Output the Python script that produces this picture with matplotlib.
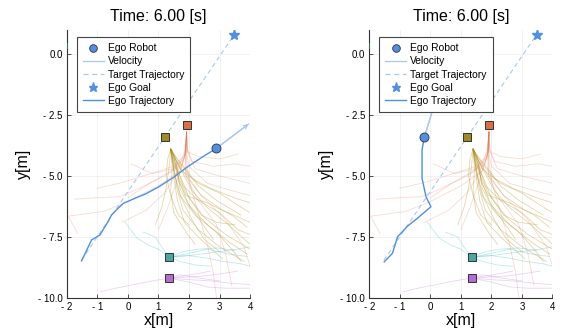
import numpy as np
import matplotlib
matplotlib.use("Agg")
import matplotlib.pyplot as plt
from matplotlib.lines import Line2D

plt.rcParams['font.family'] = ['Liberation Sans', 'DejaVu Sans']

# --- scene data ---
title = "Time: 6.00 [s]"
x_ticks = [-2, -1, 0, 1, 2, 3, 4]
x_tick_labels = ["- 2", "- 1", "0", "1", "2", "3", "4"]
y_ticks = [0.0, -2.5, -5.0, -7.5, -10.0]
y_tick_labels = ["0.0", "- 2.5", "- 5.0", "- 7.5", "- 10.0"]

goal = (3.48, 0.80)
target_start = (-1.52, -8.45)
other_goal = (-2.06, 0.33)

# agents: olive, orange, teal, purple
agent_x = [1.21, 1.92, 1.35, 1.35]
agent_y = [-3.41, -2.91, -8.33, -9.19]

# sampled predictions per agent, lists of (x, y)
olive_samples = [
    [(1.40, -3.9), (1.55, -4.5), (1.70, -5.3), (2.00, -6.2), (2.60, -7.0), (3.30, -7.7), (3.90, -8.2)],
    [(1.40, -3.9), (1.50, -4.6), (1.60, -5.5), (1.80, -6.4), (2.30, -7.2), (3.00, -7.9), (3.80, -8.5)],
    [(1.40, -3.9), (1.60, -4.4), (1.90, -5.0), (2.40, -5.8), (3.10, -6.4), (4.00, -6.9)],
    [(1.40, -3.9), (1.45, -4.7), (1.40, -5.6), (1.50, -6.5), (1.90, -7.3), (2.20, -7.8)],
    [(1.40, -3.9), (1.60, -4.6), (1.80, -5.4), (2.30, -6.0), (3.00, -6.5), (3.60, -7.2), (4.00, -7.4)],
    [(1.40, -3.9), (1.35, -4.6), (1.25, -5.5), (1.10, -6.3), (0.90, -7.0)],
    [(1.40, -3.9), (1.70, -4.5), (2.10, -5.1), (2.70, -5.5), (3.50, -5.9), (4.00, -6.1)],
    [(1.40, -3.9), (1.50, -4.8), (1.70, -5.8), (2.20, -6.6), (2.90, -7.3), (3.40, -8.0), (3.70, -8.5)],
    [(1.40, -3.9), (1.55, -4.3), (1.80, -4.9), (2.10, -5.6), (2.60, -6.3), (3.20, -6.9), (4.00, -7.8)],
    [(1.40, -3.9), (1.45, -4.4), (1.55, -5.0), (1.75, -5.9), (2.10, -6.8), (2.50, -7.6), (3.00, -8.1)],
    [(1.40, -3.9), (1.30, -4.3), (1.25, -5.0), (1.40, -5.8), (1.65, -6.6), (2.00, -7.0)],
    [(1.40, -3.9), (1.70, -4.7), (2.30, -5.3), (3.00, -5.7), (3.60, -6.2), (4.00, -6.5)],
    [(1.40, -3.9), (1.50, -4.5), (1.75, -5.1), (2.00, -5.9), (2.40, -6.6), (2.90, -6.9), (3.50, -7.0)],
    [(1.40, -3.9), (1.60, -4.9), (1.90, -5.7), (2.50, -6.7), (3.20, -7.4), (4.00, -8.0)],
    [(1.42, -3.9), (1.50, -4.2), (1.62, -4.8), (1.70, -5.5), (1.95, -6.1), (2.40, -6.9), (2.80, -7.6)],
    [(1.42, -3.9), (1.58, -4.4), (1.65, -5.2), (1.90, -5.8), (2.60, -6.1), (3.40, -6.6), (3.90, -7.1)],
    [(1.40, -3.9), (1.48, -4.5), (1.52, -5.2), (1.62, -6.0), (1.85, -6.9), (2.30, -7.5), (3.10, -8.4)],
    [(1.40, -3.9), (1.62, -4.3), (1.95, -4.8), (2.30, -5.4), (2.90, -6.0), (3.70, -6.6)],
]
orange_samples = [
    [(1.92, -3.2), (1.90, -3.8), (1.85, -4.3), (1.50, -4.7), (0.80, -4.9), (0.10, -4.5)],
    [(1.92, -3.2), (1.88, -3.9), (1.80, -4.5), (1.20, -5.0), (0.20, -5.6), (-0.30, -5.85), (-1.15, -5.9), (-1.75, -5.95)],
    [(1.92, -3.2), (1.90, -4.0), (1.70, -4.8), (1.00, -5.4), (0.00, -6.05), (-0.80, -6.45), (-1.95, -6.65), (-1.65, -7.35)],
    [(1.92, -3.2), (1.95, -3.9), (2.10, -4.4), (2.80, -4.6), (3.50, -4.5), (4.00, -4.6)],
    [(1.92, -3.2), (1.95, -4.0), (2.20, -4.7), (3.00, -5.0), (4.00, -5.3)],
    [(1.92, -3.2), (1.90, -4.1), (2.00, -5.2), (2.30, -6.5), (2.60, -7.8), (2.80, -9.0), (2.90, -10.0)],
    [(1.92, -3.2), (1.88, -4.0), (1.90, -5.0), (2.30, -6.0), (2.90, -7.0), (3.20, -8.2), (3.40, -9.5)],
    [(1.92, -3.2), (1.85, -4.0), (1.60, -4.9), (1.20, -5.7), (0.60, -6.4), (-0.20, -6.9)],
    [(1.92, -3.2), (1.90, -3.9), (2.00, -4.6), (2.60, -5.3), (3.40, -5.6), (4.00, -5.8)],
    [(1.92, -3.2), (1.90, -4.0), (1.90, -4.9), (2.40, -5.8), (3.20, -6.8), (3.80, -7.9), (4.00, -8.7)],
    [(1.92, -3.2), (1.88, -4.1), (1.50, -4.6), (0.50, -5.0), (-0.30, -5.3), (-1.00, -5.5)],
    [(1.92, -3.2), (1.90, -4.0), (1.60, -5.2), (1.30, -6.3), (1.00, -7.2)],
    [(1.92, -3.2), (1.95, -4.0), (2.30, -4.2), (3.00, -4.3), (3.60, -4.1)],
    [(1.92, -3.2), (1.86, -4.2), (1.40, -4.8), (0.70, -5.3), (0.00, -5.9)],
]
teal_samples = [
    [(1.35, -8.33), (1.80, -8.30), (2.40, -8.20), (3.00, -8.10), (3.60, -8.00), (4.00, -7.90)],
    [(1.35, -8.33), (1.90, -8.25), (2.50, -8.35), (3.10, -8.50), (3.70, -8.60), (4.00, -8.70)],
    [(1.35, -8.33), (1.80, -8.10), (2.30, -8.00), (2.90, -7.95), (3.50, -8.05)],
    [(1.35, -8.33), (1.70, -8.50), (2.20, -8.65), (2.70, -8.70)],
    [(1.35, -8.33), (1.00, -8.00), (0.70, -7.85), (0.30, -7.55), (-0.10, -6.90)],
    [(1.35, -8.33), (1.90, -8.20), (2.60, -8.00), (3.30, -8.20), (3.90, -8.30)],
    [(1.35, -8.33), (1.10, -7.90), (0.90, -7.50), (0.50, -7.30)],
]
purple_samples = [
    [(1.35, -9.19), (1.90, -9.15), (2.50, -9.10), (3.10, -9.00), (3.60, -8.90)],
    [(1.35, -9.19), (2.00, -9.25), (2.70, -9.30), (3.40, -9.40), (4.00, -9.45)],
    [(1.35, -9.19), (1.80, -9.10), (2.30, -9.00), (2.70, -8.90)],
    [(1.35, -9.19), (0.80, -9.30), (0.20, -9.45), (-0.40, -9.60), (-0.90, -9.75)],
    [(1.35, -9.19), (2.00, -9.35), (2.60, -9.55), (3.20, -9.60), (4.00, -9.60)],
    [(1.35, -9.19), (1.70, -9.05), (2.40, -9.20), (3.00, -9.30)],
]

# ego trajectories for the two panels
ego_left_x = [-1.52, -1.19, -0.92, -0.65, -0.54, -0.32, -0.15, 0.20, 0.60, 1.00, 1.50, 1.92, 2.40, 2.89]
ego_left_y = [-8.48, -7.62, -7.42, -6.87, -6.60, -6.32, -6.12, -5.93, -5.72, -5.45, -5.05, -4.65, -4.25, -3.87]
vel_left = (3.95, -2.87)

ego_right_x = [-1.51, -1.24, -1.07, -0.74, -0.42, 0.02, -0.14, -0.27, -0.27, -0.20]
ego_right_y = [-8.52, -8.17, -7.49, -7.05, -6.73, -6.26, -5.85, -5.10, -3.93, -3.42]
vel_right = (0.25, -1.60)

panels = [(ego_left_x, ego_left_y, vel_left), (ego_right_x, ego_right_y, vel_right)]

ego_c = '#4f8fe6'
light_c = '#a8c8f2'
agent_colors = ['#a08a24', '#dc6e45', '#4aa5a8', '#b46cd0']
sample_colors = ['#ac8e18', '#e36f47', '#00aaae', '#c371d2']
sample_alpha = [0.35, 0.25, 0.25, 0.3]
all_samples = [olive_samples, orange_samples, teal_samples, purple_samples]

fig = plt.figure(figsize=(5.62, 3.34), dpi=100)
axes = [fig.add_axes([0.119, 0.108, 0.326, 0.803]),
        fig.add_axes([0.657, 0.108, 0.326, 0.803])]

for ax, (ex, ey, vel) in zip(axes, panels):
    for samples, col, al in zip(all_samples, sample_colors, sample_alpha):
        for s in samples:
            s = np.array(s)
            ax.plot(s[:, 0], s[:, 1], color=col, alpha=al, lw=0.6, zorder=2)

    ax.plot([target_start[0], goal[0]], [target_start[1], goal[1]],
            color=light_c, lw=0.8, ls=(0, (4, 3)), zorder=3)
    ax.plot(ex, ey, color=ego_c, lw=1.0, zorder=4)
    ax.plot([ex[-1], vel[0]], [ey[-1], vel[1]], color=light_c, lw=0.9, zorder=4)
    ax.annotate('', xy=vel, xytext=(ex[-1], ey[-1]),
                arrowprops=dict(arrowstyle='->', color=light_c, lw=0.9,
                                mutation_scale=7, shrinkA=0, shrinkB=0), zorder=4)
    for axx, ayy, c in zip(agent_x, agent_y, agent_colors):
        ax.plot(axx, ayy, marker='s', ms=5.8, color=c, mec='#333333', mew=0.7,
                ls='none', zorder=6)
    ax.plot(ex[-1], ey[-1], marker='o', ms=6.5, color=ego_c, mec='#333333',
            mew=0.6, ls='none', zorder=7)
    ax.plot(goal[0], goal[1], marker='*', ms=8, color=ego_c, mec=ego_c,
            ls='none', zorder=7)
    ax.plot(other_goal[0], other_goal[1], marker='s', ms=4, color='#3ea44e',
            alpha=0.6, mew=0, ls='none', zorder=5)

    ax.set_xlim(-2, 4)
    ax.set_ylim(-10, 1.0)
    ax.set_xticks(x_ticks)
    ax.set_xticklabels(x_tick_labels)
    ax.set_yticks(y_ticks)
    ax.set_yticklabels(y_tick_labels)
    ax.tick_params(direction='in', length=3, width=0.6, color='#333333',
                   labelsize=7, pad=3)
    ax.grid(True, color='#000000', alpha=0.07, lw=0.5)
    for sp in ['top', 'right']:
        ax.spines[sp].set_visible(False)
    for sp in ['left', 'bottom']:
        ax.spines[sp].set_color('#333333')
        ax.spines[sp].set_linewidth(0.8)

    ax.set_title(title, fontsize=11.5, pad=6)
    ax.set_xlabel("x[m]", fontsize=11.5)
    ax.set_ylabel("y[m]", fontsize=11.5)
    ax.xaxis.set_label_coords(0.5, -0.083)
    ax.xaxis.label.set_va('center')
    ax.yaxis.set_label_coords(-0.235, 0.5)
    ax.yaxis.label.set_va('center')

    handles = [
        Line2D([], [], marker='o', ms=5.5, color=ego_c, mec='#333333', mew=0.6, ls='none'),
        Line2D([], [], color=light_c, lw=0.9),
        Line2D([], [], color=light_c, lw=0.9, ls=(0, (4, 3))),
        Line2D([], [], marker='*', ms=6.5, color=ego_c, ls='none'),
        Line2D([], [], color=ego_c, lw=1.0),
    ]
    labels = ["Ego Robot", "Velocity", "Target Trajectory", "Ego Goal", "Ego Trajectory"]
    leg = ax.legend(handles, labels, loc='upper left', bbox_to_anchor=(0.055, 0.972),
                    borderaxespad=0, fontsize=7.4, frameon=True, fancybox=False,
                    edgecolor='#444444', framealpha=1, handlelength=2.0,
                    handletextpad=0.4, labelspacing=0.3, borderpad=0.6)
    leg.get_frame().set_linewidth(0.8)
    leg.set_zorder(10)

fig.savefig("out.png", dpi=100)
